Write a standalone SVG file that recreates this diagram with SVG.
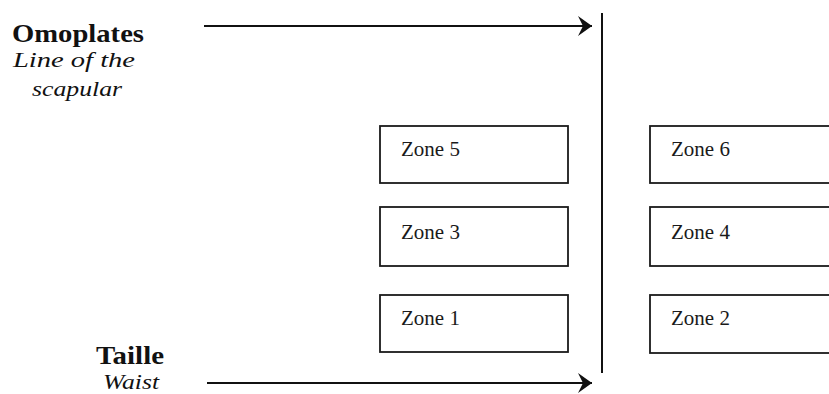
<svg xmlns="http://www.w3.org/2000/svg" width="829" height="394" viewBox="0 0 829 394">
  <style>
    .bg { fill: #ffffff; }
    .box { fill: #ffffff; stroke: #1a1a1a; stroke-width: 1.8; }
    .zt { font-family: "Liberation Serif", "Times New Roman", serif; font-size: 21px; fill: #1a1a1a; }
    .head { font-family: "Liberation Serif", "Times New Roman", serif; font-size: 26px; font-weight: bold; fill: #111111; text-anchor: middle; }
    .sub { font-family: "Liberation Serif", "Times New Roman", serif; font-size: 22px; font-style: italic; fill: #111111; text-anchor: middle; }
    .line { stroke: #111111; stroke-width: 2; fill: none; }
  </style>
  <defs>
    <marker id="arrow" markerUnits="userSpaceOnUse" markerWidth="16" markerHeight="22" refX="15" refY="11" orient="auto">
      <path d="M15,11 L1,1 L6,11 L1,21 Z" fill="#111111"/>
    </marker>
  </defs>
  <rect class="bg" x="0" y="0" width="829" height="394"/>

  <g id="label-omoplates">
    <text class="head" x="78" y="42" textLength="132" lengthAdjust="spacingAndGlyphs">Omoplates</text>
    <text class="sub" x="74" y="67" textLength="122" lengthAdjust="spacingAndGlyphs">Line of the</text>
    <text class="sub" x="77" y="96" textLength="90" lengthAdjust="spacingAndGlyphs">scapular</text>
  </g>

  <g id="label-taille">
    <text class="head" x="130" y="364" textLength="68" lengthAdjust="spacingAndGlyphs">Taille</text>
    <text class="sub" x="131" y="389" textLength="56" lengthAdjust="spacingAndGlyphs">Waist</text>
  </g>

  <g id="connectors">
    <line class="line" x1="204" y1="26" x2="592" y2="26" marker-end="url(#arrow)"/>
    <line class="line" x1="207" y1="383" x2="592" y2="383" marker-end="url(#arrow)"/>
    <line class="line" x1="602" y1="13" x2="602" y2="373"/>
  </g>

  <g id="zone5">
    <rect class="box" x="380" y="126" width="188" height="57"/>
    <text class="zt" x="401" y="156">Zone 5</text>
  </g>
  <g id="zone3">
    <rect class="box" x="380" y="207" width="188" height="59"/>
    <text class="zt" x="401" y="239">Zone 3</text>
  </g>
  <g id="zone1">
    <rect class="box" x="380" y="295" width="188" height="57"/>
    <text class="zt" x="401" y="325">Zone 1</text>
  </g>
  <g id="zone6">
    <rect class="box" x="650" y="126" width="220" height="57"/>
    <text class="zt" x="671" y="156">Zone 6</text>
  </g>
  <g id="zone4">
    <rect class="box" x="650" y="207" width="220" height="59"/>
    <text class="zt" x="671" y="239">Zone 4</text>
  </g>
  <g id="zone2">
    <rect class="box" x="650" y="295" width="220" height="58"/>
    <text class="zt" x="671" y="325">Zone 2</text>
  </g>
</svg>
